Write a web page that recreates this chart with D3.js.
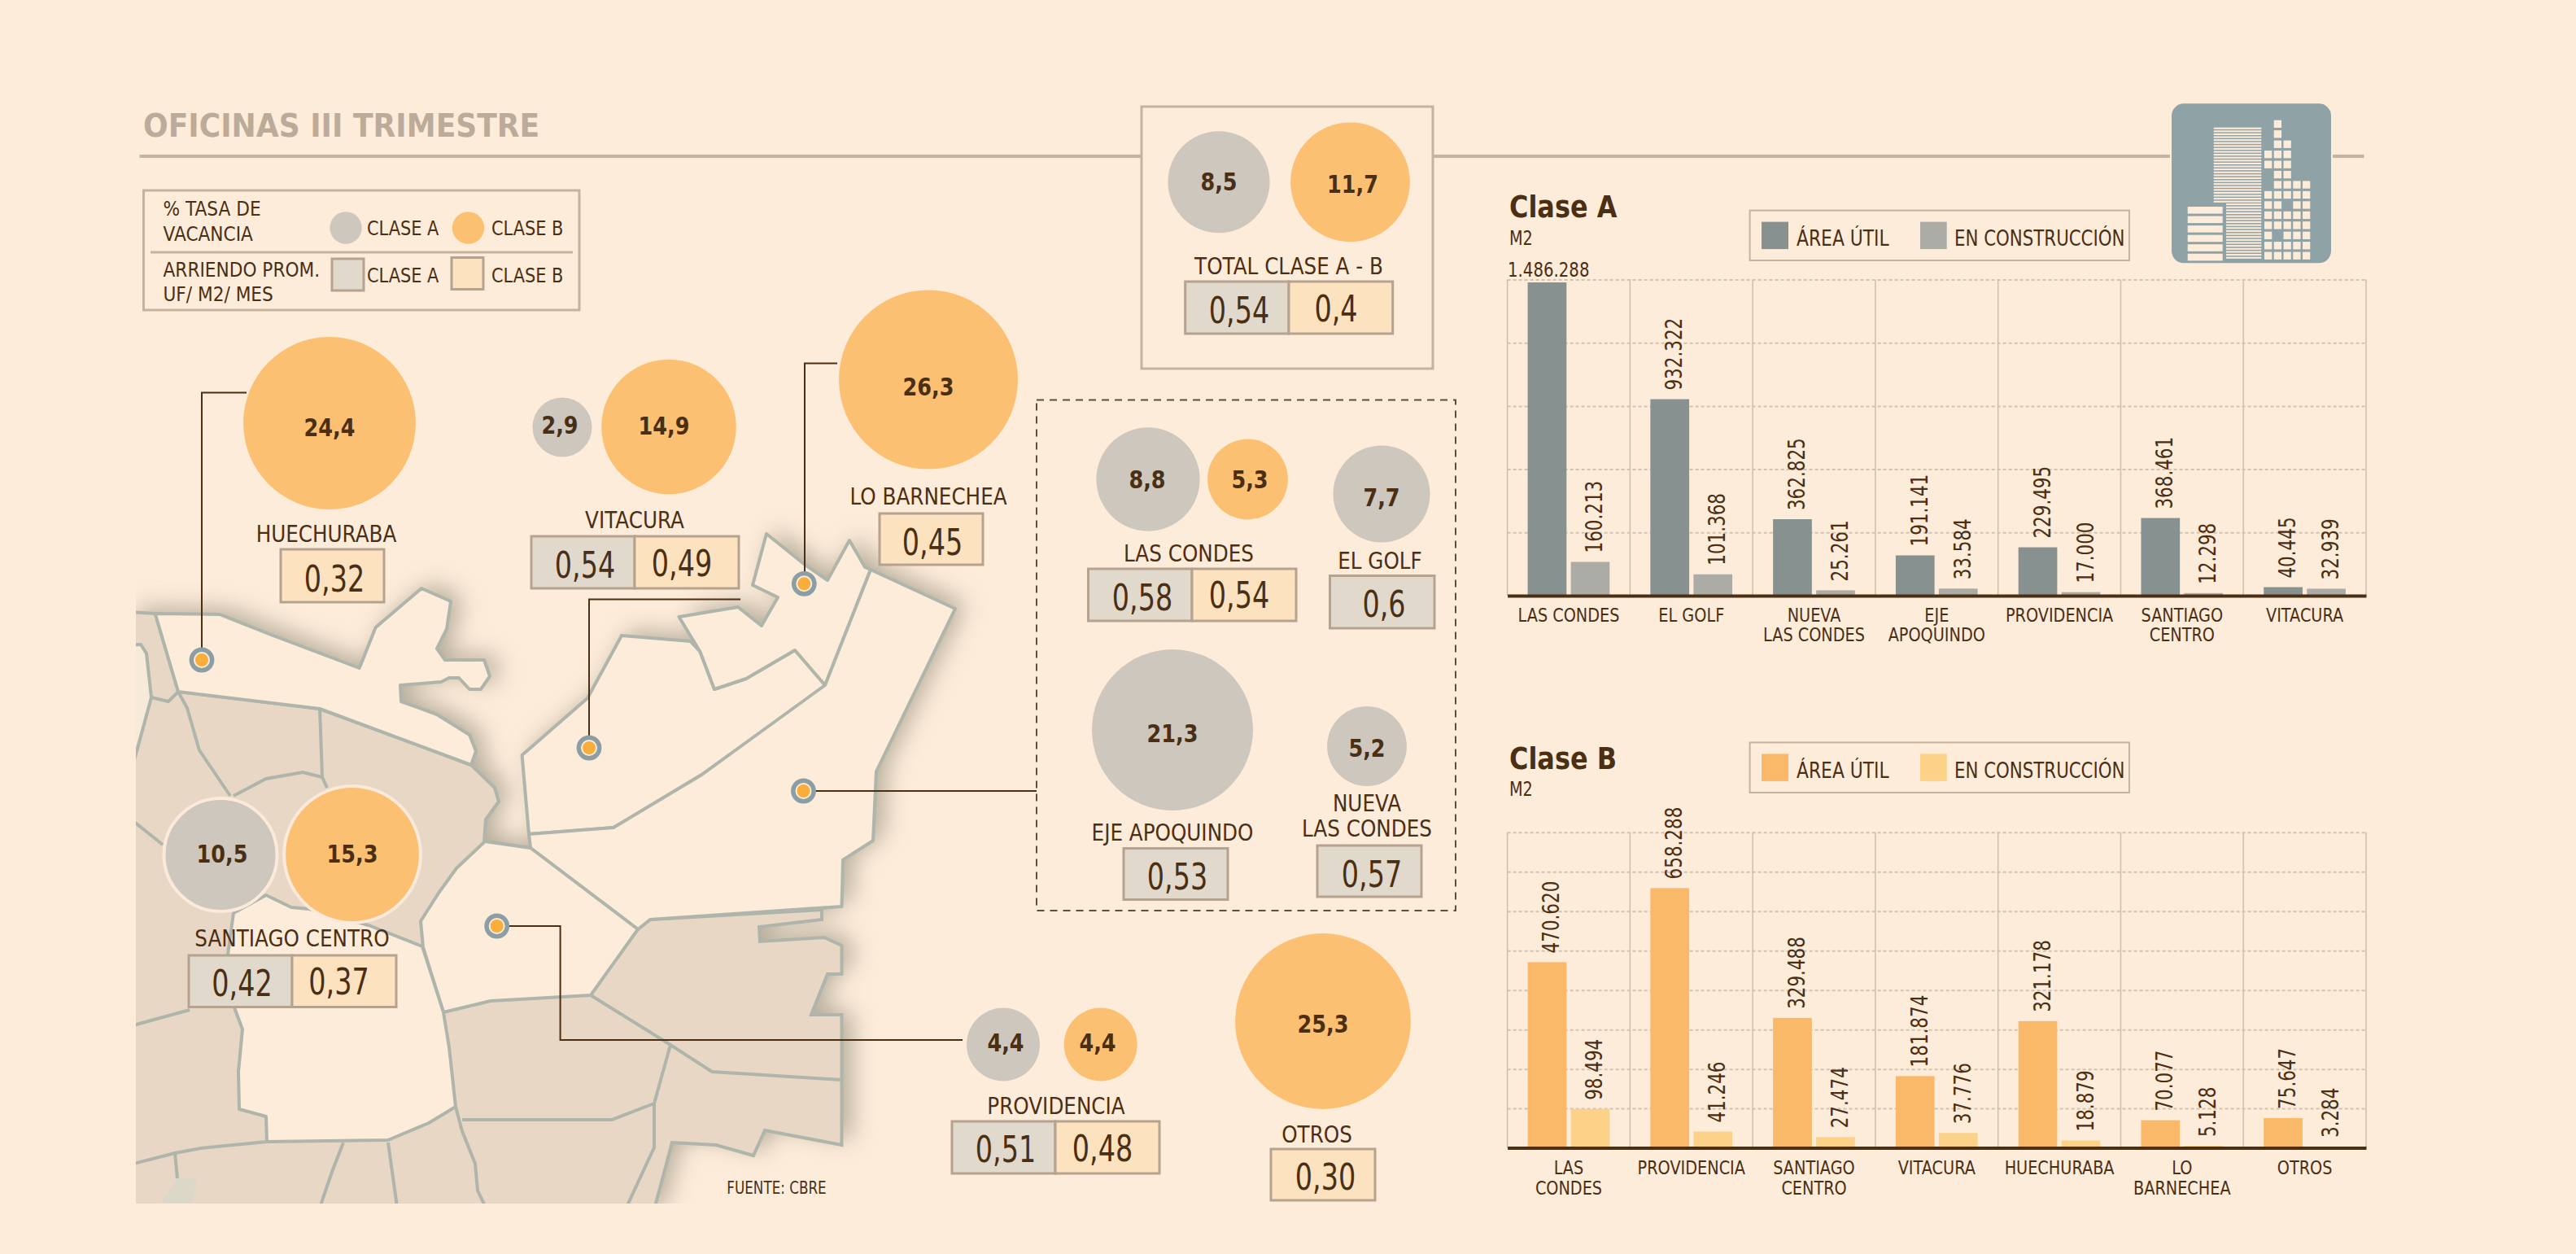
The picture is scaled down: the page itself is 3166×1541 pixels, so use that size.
<!DOCTYPE html>
<html><head><meta charset="utf-8">
<script src="https://cdn.jsdelivr.net/npm/d3@7/dist/d3.min.js"></script>
<style>html,body{margin:0;padding:0;background:#feecda;overflow:hidden}svg{display:block}text{font-family:"DejaVu Sans",sans-serif}</style>
</head><body><svg id="c" width="3166" height="1541" viewBox="0 0 3166 1541"></svg>
<script>
// ---------- DATA ----------
const places=["HUECHURABA","VITACURA","LO BARNECHEA","LAS CONDES","EL GOLF","EJE APOQUINDO","NUEVA\nLAS CONDES","OTROS","PROVIDENCIA","SANTIAGO CENTRO","TOTAL CLASE A - B"];
const vacancyA=[null,2.9,null,8.8,7.7,21.3,5.2,null,4.4,10.5,8.5];
const vacancyB=[24.4,14.9,26.3,5.3,null,null,null,25.3,4.4,15.3,11.7];
const rentA=[null,"0,54",null,"0,58","0,6","0,53","0,57",null,"0,51","0,42","0,54"];
const rentB=["0,32","0,49","0,45","0,54",null,null,null,"0,30","0,48","0,37","0,4"];

const catsA=["LAS CONDES","EL GOLF","NUEVA\nLAS CONDES","EJE\nAPOQUINDO","PROVIDENCIA","SANTIAGO\nCENTRO","VITACURA"];
const utilA=[1486288,932322,362825,191141,229495,368461,40445];
const consA=[160213,101368,25261,33584,17000,12298,32939];
const catsB=["LAS\nCONDES","PROVIDENCIA","SANTIAGO\nCENTRO","VITACURA","HUECHURABA","LO\nBARNECHEA","OTROS"];
const utilB=[470620,658288,329488,181874,321178,70077,75647];
const consB=[98494,41246,27474,37776,18879,5128,3284];

// ---------- LAYOUT ----------
const layout=[
 {b:[405,520,405,536],label:[401,666],box:[345,675,472,740],tb:[411,727]},
 {a:[691,525,688,533],b:[822,524.5,816,534],label:[780,649],box:[653,659,908,723,780],ta:[719,710],tb:[838,708]},
 {b:[1141,466.5,1141,485.5],label:[1141,620],box:[1081,631,1208,694],tb:[1146,681.5]},
 {a:[1411,589,1410,600],b:[1533.5,589,1536,600],label:[1461,690],box:[1337.5,699,1593,763,1465],ta:[1404,749.5],tb:[1523,746.5]},
 {a:[1698,607,1698,621.5],label:[1696,699],box:[1634.5,707.5,1763,772],ta:[1701,758]},
 {a:[1441,897,1441,912],label:[1441,1033],box:[1381,1042.5,1509,1105.5],ta:[1447,1093]},
 {a:[1680,917,1680,930],label:[1680,997],box:[1619,1039,1747,1102],ta:[1686,1090]},
 {b:[1626,1255,1626,1269],label:[1618.5,1403.5],box:[1562,1412,1690,1475],tb:[1629,1462]},
 {a:[1233,1283.5,1236,1292],b:[1352.7,1283.5,1349,1292],label:[1298,1369],box:[1170,1378,1425,1442,1297],ta:[1236,1428],tb:[1355,1426.5]},
 {a:[271,1050.5,273,1060],b:[433,1050,433,1060],label:[359,1163],box:[232,1174,487,1237.5,359],ta:[297.5,1224],tb:[416.5,1221.5],ring:true},
 {a:[1498,223.7,1498,233.5],b:[1659.5,223.8,1662.5,237],label:[1584,336.7],box:[1456.7,346,1711.7,410,1584],ta:[1523,396.7],tb:[1642,395]}
];
const markers=[[248,811],[988.3,717.3],[724,919],[987.5,972],[610.7,1138]];
const leaders=[
 [[303,482.6],[248,482.6],[248,811]],
 [[1029,446.5],[989,446.5],[989,717]],
 [[910,736.5],[724,736.5],[724,919]],
 [[987.5,972],[1274,972]],
 [[610.7,1138],[688.6,1138],[688.6,1278],[1183,1278]]
];
// map geometry (pixels)
const mapWest=[[160,752],[190.7,754],[219,850],[393,871],[579,940],[608,968],[613,985],[597,1007],[595,1034],[652,1042],[784,1142],[799,1130],[1010,1118],[1010,1130],[933,1139],[934,1157],[1013,1152],[1034.5,1162],[1034.5,1197],[1017,1197],[997,1247],[1034.5,1247],[1034.5,1407],[940,1389],[926,1420],[880,1407],[826,1404],[803,1490],[160,1490]];
const mapHuechuraba=[[190.7,754],[270,755],[333,780],[441.7,821],[461.7,771],[518,723],[554,739],[549,773],[537,797],[547,811],[595,811],[602,831],[591,847],[577,847],[564,833],[552,833],[542,838],[492,842],[493,862],[537,878],[577,903],[585,923],[579,940],[393,871],[219,850]];
const mapVitacura=[[650,1025],[641.6,928],[722,858],[764,781],[848.5,788],[860.5,801],[878,847],[917,834],[977,799],[1015,843],[862.5,952],[754,1017]];
const mapBarnechea=[[942,656],[988,693],[1017,713],[1044,664],[1063,697],[1070,700],[1014,842],[977,799],[917,834],[878,847],[860.5,801],[834.5,758],[907,746],[936,769],[956,734],[925,719]];
const mapLasCondes=[[1070,700],[1174,748],[1077,948],[1073,1033],[1036,1056.6],[1034.5,1114],[799,1130],[784,1142],[652,1042],[650,1025],[754,1017],[862.5,952],[1014,842]];
const mapProvidencia=[[596,1034],[652,1042],[784,1142],[726,1223],[603,1230],[545,1244],[520,1164],[517,1132],[540,1096],[561,1067]];
const mapCentro=[[287,1122],[327,1100],[358,1115],[380,1117],[453,1137],[519,1163],[545,1244],[552,1287],[560,1360],[527,1380],[477,1401],[328,1403],[327,1372],[294,1363],[293,1317],[298,1265],[288,1238],[280,1173]];
const mapHoleWest=[[150,793],[173,792],[180,803],[186,857],[167,927],[150,985]];
const mapHoleSouth=[[218,1448],[242,1448],[233,1490],[190,1490]];
const mapLines=[
 [[186,857],[207,862],[219,850],[230,870],[245,922],[283,978]],
 [[287,978],[327,957],[372,949],[396,955],[402,968]],
 [[393,871],[396,955]],
 [[160,1006],[200,1038]],
 [[160,1261],[233,1241]],
 [[160,1431],[215,1417],[247,1411],[328,1403]],
 [[215,1417],[218,1448]],
 [[422,1404],[408,1440],[391,1490]],
 [[477,1404],[489,1490]],
 [[560,1360],[568,1390],[584,1430],[587,1463],[600,1490]],
 [[568,1376],[752,1376],[804,1356]],
 [[726,1223],[824,1284],[875,1317],[1034.5,1327]],
 [[824,1284],[804,1356],[804,1410],[767,1490]]
];
const iconGrid=["01000","01000","01100","11100","11100","01100","01111","11111","11011","11111","11111","10111","11111","11111"];

// ---------- COLOURS ----------
const BG="#feecda",INK="#4a2f14",GREY="#cdc7bd",ORANGE="#fcc073",RULE="#c5b39f",BOXLINE="#b5a28f",FILLA="#e2d9cd",FILLB="#fde2c0",EDGE="#afb5ab";

const svg=d3.select("#c");
svg.append("rect").attr("width",3166).attr("height",1541).attr("fill",BG);
const defs=svg.append("defs");
const f=defs.append("filter").attr("id","blur").attr("x","-20%").attr("y","-20%").attr("width","140%").attr("height","140%");
f.append("feGaussianBlur").attr("stdDeviation",15);
defs.append("clipPath").attr("id","mapclip").append("rect").attr("x",167).attr("y",0).attr("width",3000).attr("height",1479);

function T(g,x,y,s,o={}){
  const size=o.size||25.5, sx=o.sx||0.85;
  return g.append("text").text(s)
    .attr("transform",`translate(${x},${y})${o.rot?" rotate(-90)":""} scale(${sx},1)`)
    .attr("font-size",size).attr("fill",o.fill||INK)
    .attr("font-weight",o.bold?"bold":"normal")
    .attr("text-anchor",o.anchor||"middle");
}
const poly=d3.line();
const es=d3.formatLocale({decimal:",",thousands:".",grouping:[3],currency:["",""]});
const fmtInt=es.format(",d"), fmtVac=es.format(".1f");

// ---------- MAP ----------
const gMap=svg.append("g").attr("clip-path","url(#mapclip)");
const land=[mapWest,mapHuechuraba,mapVitacura,mapBarnechea,mapLasCondes];
const gShadow=gMap.append("g").attr("filter","url(#blur)").attr("transform","translate(12,-6)").attr("opacity",.6);
gShadow.selectAll("path").data(land).join("path").attr("d",d=>poly(d)+"Z").attr("fill","#83816f");
gMap.append("path").attr("d",poly(mapWest)+"Z").attr("fill","#e8d7c4").attr("stroke",EDGE).attr("stroke-width",4);
gMap.append("path").attr("d",poly(mapHoleWest)+"Z").attr("fill","#f8ead8").attr("stroke",EDGE).attr("stroke-width",4);
gMap.append("path").attr("d",poly(mapHoleSouth)+"Z").attr("fill","#dbd8c9");
gMap.selectAll("path.l").data([mapHuechuraba,mapVitacura,mapBarnechea,mapLasCondes,mapProvidencia,mapCentro]).join("path").attr("class","l")
  .attr("d",d=>poly(d)+"Z").attr("fill","#feecdb").attr("stroke",EDGE).attr("stroke-width",4).attr("stroke-linejoin","round");
gMap.selectAll("path.b").data(mapLines).join("path").attr("class","b").attr("d",d=>poly(d)).attr("fill","none").attr("stroke",EDGE).attr("stroke-width",4);

// leader lines and markers
svg.selectAll("path.lead").data(leaders).join("path").attr("class","lead").attr("d",d=>poly(d)).attr("fill","none").attr("stroke",INK).attr("stroke-width",2);
const gm=svg.selectAll("g.mk").data(markers).join("g").attr("class","mk").attr("transform",d=>`translate(${d[0]},${d[1]})`);
gm.append("circle").attr("r",12.7).attr("fill","#feecdb").attr("stroke","#8a9ea3").attr("stroke-width",5.4);
gm.append("circle").attr("r",8).attr("fill","#f9ad3b");

// ---------- HEADER ----------
T(svg,176,168,"OFICINAS III TRIMESTRE",{size:39,bold:true,sx:.925,anchor:"start",fill:"#bcab99"});
[[171.5,1403],[1761,2667],[2867,2905.5]].forEach(s=>svg.append("line").attr("x1",s[0]).attr("x2",s[1]).attr("y1",192).attr("y2",192).attr("stroke",RULE).attr("stroke-width",4));
svg.append("rect").attr("x",1403).attr("y",131).attr("width",358).attr("height",322).attr("fill",BG).attr("stroke",RULE).attr("stroke-width",3);

// legend
svg.append("rect").attr("x",176.5).attr("y",234).attr("width",535.5).attr("height",147).attr("fill","none").attr("stroke",RULE).attr("stroke-width",3);
svg.append("line").attr("x1",185).attr("x2",704).attr("y1",310).attr("y2",310).attr("stroke",RULE).attr("stroke-width",3);
[["% TASA DE",264.5],["VACANCIA",296],["ARRIENDO PROM.",339.5],["UF/ M2/ MES",370]].forEach(d=>T(svg,200.5,d[1],d[0],{anchor:"start"}));
svg.append("circle").attr("cx",425).attr("cy",280).attr("r",19.7).attr("fill",GREY);
svg.append("circle").attr("cx",575.5).attr("cy",280).attr("r",19.7).attr("fill",ORANGE);
svg.append("rect").attr("x",408).attr("y",318).attr("width",39).attr("height",39).attr("fill",FILLA).attr("stroke",BOXLINE).attr("stroke-width",3);
svg.append("rect").attr("x",555).attr("y",316.5).attr("width",39).attr("height",39).attr("fill",FILLB).attr("stroke",BOXLINE).attr("stroke-width",3);
[[451,288.5,"CLASE A"],[604,288.5,"CLASE B"],[451,347,"CLASE A"],[604,347,"CLASE B"]].forEach(d=>T(svg,d[0],d[1],d[2],{anchor:"start",sx:.82}));

// dashed panel
svg.append("rect").attr("x",1274).attr("y",491.5).attr("width",515).attr("height",627.5).attr("fill","none").attr("stroke","#5e4d3c").attr("stroke-width",2).attr("stroke-dasharray","9 7");

// ---------- BUBBLES AND BOXES ----------
const r=d3.scaleSqrt().domain([0,26.3]).range([0,110]);
const gB=svg.append("g");
places.forEach((name,i)=>{
  const L=layout[i];
  [["a",vacancyA[i],GREY],["b",vacancyB[i],ORANGE]].forEach(([k,v,col])=>{
    if(v==null)return;
    const p=L[k];
    const c=gB.append("circle").attr("cx",p[0]).attr("cy",p[1]).attr("r",r(v)).attr("fill",col);
    if(L.ring)c.attr("stroke","#fbeadb").attr("stroke-width",4);
    T(gB,p[2],p[3],fmtVac(v),{size:30,bold:true,sx:.85});
  });
  const lines=name.split("\n");
  if(lines.length==2){T(gB,L.label[0],L.label[1],lines[0],{size:29});T(gB,L.label[0],L.label[1]+31,lines[1],{size:29});}
  else T(gB,L.label[0],L.label[1],name,{size:29});
  const [x0,y0,x1,y1,sp]=L.box;
  const hasA=rentA[i]!=null,hasB=rentB[i]!=null;
  const mid=sp||(hasA?x1:x0);
  if(hasA)gB.append("rect").attr("x",x0).attr("y",y0).attr("width",mid-x0).attr("height",y1-y0).attr("fill",FILLA).attr("stroke",BOXLINE).attr("stroke-width",3);
  if(hasB)gB.append("rect").attr("x",mid).attr("y",y0).attr("width",x1-mid).attr("height",y1-y0).attr("fill",FILLB).attr("stroke",BOXLINE).attr("stroke-width",3);
  if(hasA)T(gB,L.ta[0],L.ta[1],rentA[i],{size:44,sx:.76});
  if(hasB)T(gB,L.tb[0],L.tb[1],rentB[i],{size:44,sx:.76});
});
T(svg,954.5,1467,"FUENTE: CBRE",{size:21.5,sx:.78});

// ---------- ICON ----------
const gI=svg.append("g");
gI.append("rect").attr("x",2669).attr("y",127.3).attr("width",196).attr("height",196).attr("rx",15).attr("fill","#8fa2a5");
d3.range(26).forEach(i=>gI.append("rect").attr("x",2720.7).attr("y",156.7+i*3.6).attr("width",58.6).attr("height",2.1).attr("fill",BG));
d3.range(19).forEach(i=>gI.append("rect").attr("x",2736).attr("y",250+i*3.65).attr("width",43.3).attr("height",2.1).attr("fill",BG));
d3.range(6).forEach(i=>gI.append("rect").attr("x",2688.7).attr("y",254+i*11.55).attr("width",43).attr("height",8.6).attr("fill",BG));
iconGrid.forEach((row,ri)=>row.split("").forEach((v,ci)=>{
  if(v==="1")gI.append("rect").attr("x",2783+ci*11.75).attr("y",147.7+ri*12.45).attr("width",9.3).attr("height",9.3).attr("fill",BG);
}));

// ---------- BAR CHARTS ----------
function barChart(o){
  const g=svg.append("g");
  const x0=d3.scaleBand().domain(o.cats).range([1852.6,2908]);
  const x1=d3.scaleBand().domain(["u","c"]).range([25,125.7]).paddingInner(.1);
  const y=d3.scaleLinear().domain([0,o.max]).range([o.base,o.top]);
  const grid=g.append("g").attr("transform",`translate(1852.6,0)`).call(d3.axisLeft(y).tickValues(d3.range(o.step,o.max+1,o.step)).tickSize(-1055.4).tickFormat(""));
  grid.select(".domain").remove();
  grid.selectAll("line").attr("stroke","#d2c2b0").attr("stroke-width",2).attr("stroke-dasharray","4 3");
  g.selectAll("line.sep").data(o.cats.map(c=>x0(c)).concat([2908])).join("line").attr("class","sep")
    .attr("x1",d=>d).attr("x2",d=>d).attr("y1",o.top).attr("y2",o.base).attr("stroke","#cfc0b0").attr("stroke-width",1.6);
  const rows=o.cats.map((c,i)=>({c,u:o.util[i],k:o.cons[i]}));
  const gr=g.selectAll("g.col").data(rows).join("g").attr("class","col").attr("transform",d=>`translate(${x0(d.c)},0)`);
  gr.append("rect").attr("x",x1("u")).attr("width",x1.bandwidth()).attr("y",d=>y(d.u)).attr("height",d=>o.base-y(d.u)).attr("fill",o.c1);
  gr.append("rect").attr("x",x1("c")).attr("width",x1.bandwidth()).attr("y",d=>y(d.k)).attr("height",d=>o.base-y(d.k)).attr("fill",o.c2);
  rows.forEach(d=>{
    [["u",d.u],["c",d.k]].forEach(([k,v])=>{
      const cx=x0(d.c)+x1(k)+x1.bandwidth()/2;
      if(v>1000000){T(g,1853,339.5,fmtInt(v),{size:25,sx:.79,anchor:"start"});return;}
      T(g,cx+15,y(v)-11,fmtInt(v),{size:29,sx:.74,anchor:"start",rot:true});
    });
  });
  const ax=g.append("g").attr("transform",`translate(0,${o.base})`).call(d3.axisBottom(x0).tickSize(0).tickFormat(""));
  ax.select(".domain").attr("stroke",INK).attr("stroke-width",4);
  ax.selectAll(".tick").each(function(c){
    const t=d3.select(this);
    c.split("\n").forEach((s,i)=>T(t,0,o.lab+i*o.labStep,s,{size:23.5,sx:.82}));
  });
  T(g,1855,o.titleY,o.title,{size:38,bold:true,sx:.84,anchor:"start"});
  T(g,1855,o.m2Y,"M2",{size:24,sx:.8,anchor:"start"});
  g.append("rect").attr("x",2150.6).attr("y",o.legY).attr("width",466.4).attr("height",o.legH).attr("fill","none").attr("stroke",RULE).attr("stroke-width",2);
  g.append("rect").attr("x",2165).attr("y",o.legY+14).attr("width",33).attr("height",33.5).attr("fill",o.c1);
  g.append("rect").attr("x",2360).attr("y",o.legY+14).attr("width",32.7).attr("height",33.5).attr("fill",o.c2);
  T(g,2208,o.legY+43.5,"ÁREA ÚTIL",{anchor:"start",size:26,sx:.84});
  T(g,2402,o.legY+43.5,"EN CONSTRUCCIÓN",{anchor:"start",size:26,sx:.82});
}
barChart({cats:catsA,util:utilA,cons:consA,max:1500000,step:300000,top:343.5,base:732,c1:"#869190",c2:"#abaca5",lab:32,labStep:23.6,title:"Clase A",titleY:267,m2Y:300.5,legY:258.6,legH:61.4});
barChart({cats:catsB,util:utilB,cons:consB,max:800000,step:100000,top:1022.7,base:1410.6,c1:"#fab968",c2:"#fbd288",lab:32,labStep:25,title:"Clase B",titleY:944.5,m2Y:977.7,legY:912.4,legH:61.6});
</script></body></html>
